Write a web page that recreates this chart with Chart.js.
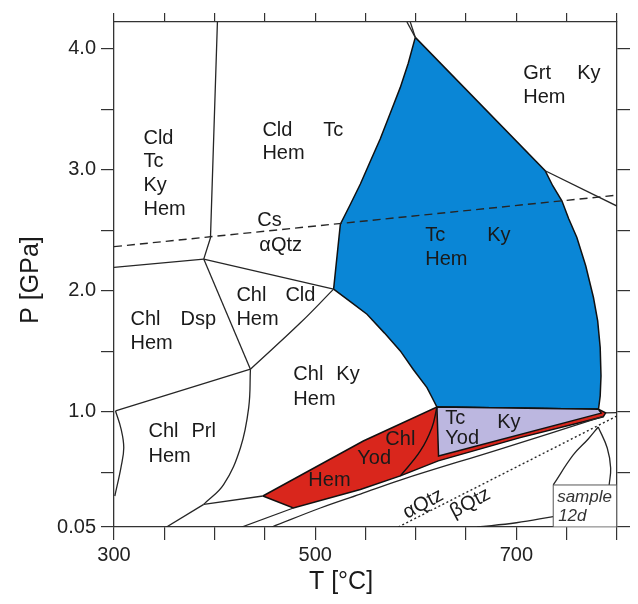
<!DOCTYPE html>
<html>
<head>
<meta charset="utf-8">
<script src="https://cdn.jsdelivr.net/npm/chart.js@4.4.1/dist/chart.umd.min.js"></script>
<style>
  html, body { margin: 0; padding: 0; background: #fff; }
  #wrap { width: 638px; height: 604px; }
</style>
</head>
<body>
<div id="wrap"><canvas id="phaseChart" width="638" height="604"></canvas></div>
<script>
// axes
const tempTicks = [300, 350, 400, 450, 500, 550, 600, 650, 700, 750, 800];
const tempLabels = [300, 500, 700];
const pressTicks = [0.05, 0.5, 1.0, 1.5, 2.0, 2.5, 3.0, 3.5, 4.0];
const pressLabels = [0.05, 1.0, 2.0, 3.0, 4.0];

// stability fields, [T °C, P GPa]
const tcKyHemField = [
  [599.5, 4.093], [728.6, 2.992], [736.1, 2.868], [745.2, 2.744], [752.0, 2.595], [760.1, 2.440],
  [768.9, 2.207], [776.6, 1.945], [780.8, 1.752], [783.3, 1.531], [784.1, 1.298], [783.3, 1.132],
  [781.6, 1.022], [621.0, 1.040], [615.4, 1.132], [611.1, 1.201], [597.5, 1.351], [584.6, 1.504],
  [568.7, 1.653], [551.5, 1.807], [534.9, 1.911], [518.3, 2.014], [525.0, 2.551], [535.0, 2.715],
  [544.9, 2.882], [554.8, 3.070], [564.7, 3.256], [574.6, 3.467], [584.6, 3.680], [592.5, 3.880],
  [599.5, 4.093]
];
const hemYodField = [
  [448.0, 0.306], [547.8, 0.760], [621.0, 1.040], [781.6, 1.022], [788.7, 0.992], [786.3, 0.960],
  [703.8, 0.788], [622.3, 0.596], [584.6, 0.472], [544.9, 0.360], [478.3, 0.207], [448.0, 0.306]
];
const tcYodKyField = [[621.0, 1.040], [781.6, 1.022], [784.3, 0.990], [622.6, 0.636], [621.0, 1.040]];
const sampleBox = [[736.6, 0.397], [800, 0.397], [800, 0.05], [736.6, 0.05], [736.6, 0.397]];

// reaction lines
const cldOut = [[402.8, 4.22], [395.9, 2.438], [389.2, 2.262]];
const dspLine = [[389.2, 2.262], [300, 2.193]];
const cldKyLine = [[389.2, 2.262], [518.3, 2.014]];
const dspCldLine = [[389.2, 2.262], [435.6, 1.353]];
const chlCldLine = [[435.6, 1.353], [485.3, 1.736], [518.3, 2.014]];
const prlDspLine = [[435.6, 1.353], [301.5, 1.008]];
const leftLoop = [[301.5, 1.008], [307.0, 0.860], [309.7, 0.705], [307.0, 0.545], [300.8, 0.306]];
const prlKyLine = [[435.6, 1.353], [433.9, 1.036], [425.7, 0.705], [409.1, 0.402], [389.2, 0.237]];
const prlLow = [[389.2, 0.237], [352.2, 0.05]];
const yodTip = [[389.2, 0.237], [448.0, 0.306]];
const lowerA = [[427.0, 0.05], [478.3, 0.207]];
const lowerB = [[457.0, 0.05], [505.1, 0.207], [544.9, 0.322], [584.6, 0.438], [683.9, 0.694], [786.3, 0.963]];
const tipLine = [[788.7, 0.992], [800, 0.995]];
const chlOut = [[621.0, 1.040], [616.0, 0.870], [604.5, 0.678], [584.6, 0.471]];
const topLineA = [[591.2, 4.22], [599.5, 4.093]];
const topLineB = [[594.5, 4.22], [599.5, 4.093]];
const grtLine = [[728.6, 2.992], [800, 2.70]];
const coesiteLine = [[300, 2.365], [800, 2.79]];
const quartzLine = [[582.6, 0.05], [800, 0.967]];
const meltA = [[781.3, 0.876], [790.3, 0.702], [793.7, 0.537], [792.2, 0.397]];
const meltB = [[781.3, 0.876], [771.4, 0.777], [756.5, 0.645], [736.6, 0.397]];
const lowCurve = [[661.0, 0.05], [700.0, 0.085], [736.6, 0.136]];

// field labels [text, T, P]
const fieldLabels = [
  ['Cld', 329.3, 3.260], ['Tc', 329.3, 3.070], ['Ky', 329.3, 2.868], ['Hem', 329.3, 2.669],
  ['Cld', 447.5, 3.322], ['Tc', 508.1, 3.322], ['Hem', 447.5, 3.132],
  ['Cs', 442.5, 2.579], ['αQtz', 444.5, 2.372],
  ['Chl', 421.7, 1.959], ['Cld', 470.4, 1.959], ['Hem', 421.7, 1.760],
  ['Chl', 316.4, 1.760], ['Dsp', 366.1, 1.760], ['Hem', 316.4, 1.562],
  ['Chl', 478.3, 1.306], ['Ky', 521.0, 1.306], ['Hem', 478.3, 1.107],
  ['Chl', 334.3, 0.835], ['Prl', 377.0, 0.835], ['Hem', 334.3, 0.636],
  ['Hem', 493.2, 0.438], ['Yod', 541.9, 0.612], ['Chl', 569.7, 0.769],
  ['Tc', 629.3, 0.950], ['Yod', 629.3, 0.777], ['Ky', 680.9, 0.909],
  ['Tc', 609.4, 2.455], ['Ky', 671.0, 2.455], ['Hem', 609.4, 2.256],
  ['Grt', 706.8, 3.793], ['Ky', 760.4, 3.793], ['Hem', 706.8, 3.595]
];
const quartzLabels = [['αQtz', 607.4, 0.240], ['βQtz', 654.1, 0.248]];
const sampleLabels = [['sample', 740.5, 0.298], ['12d', 741.5, 0.140]];

const FONT = '"Liberation Sans", Arial, sans-serif';
const toPts = arr => arr.map(([t, p]) => ({ x: t, y: p }));

function line(points, extra) {
  return Object.assign({
    data: toPts(points), borderColor: '#262626', borderWidth: 1.3,
    pointRadius: 0, fill: false, tension: 0, order: 1
  }, extra);
}
function field(points, color, order) {
  return {
    data: toPts(points), borderColor: '#111', borderWidth: 1.5, backgroundColor: color,
    fill: 'shape', pointRadius: 0, tension: 0, order: order
  };
}

const curved = { tension: 0.4 };
const datasets = [
  field(sampleBox, '#ffffff', 0),
  line(cldOut), line(dspLine), line(cldKyLine), line(dspCldLine),
  line(chlCldLine, curved), line(prlDspLine), line(leftLoop, curved),
  line(prlKyLine, curved), line(prlLow), line(yodTip), line(lowerA), line(lowerB, curved),
  line(tipLine), line(chlOut, { tension: 0.4, borderColor: '#111', borderWidth: 1.4 }),
  line(topLineA), line(topLineB), line(grtLine),
  line(coesiteLine, { borderDash: [8, 5], borderWidth: 1.4 }),
  line(quartzLine, { borderDash: [2, 2.5], borderWidth: 1.4 }),
  line(meltA, curved), line(meltB, curved), line(lowCurve, curved),
  field(tcYodKyField, '#bcb7e0', 2),
  field(hemYodField, '#d9261c', 3),
  field(tcKyHemField, '#0a86d6', 4)
];
datasets[0].borderColor = '#555';
datasets[0].borderWidth = 1;

const labelPlugin = {
  id: 'fieldLabels',
  afterDatasetsDraw(chart) {
    const { ctx, scales: { x, y } } = chart;
    ctx.save();
    ctx.fillStyle = '#1a1a1a';
    ctx.textBaseline = 'middle';
    ctx.textAlign = 'left';
    ctx.font = '20px ' + FONT;
    fieldLabels.forEach(([text, t, p]) => ctx.fillText(text, x.getPixelForValue(t), y.getPixelForValue(p)));

    ctx.textAlign = 'center';
    quartzLabels.forEach(([text, t, p]) => {
      ctx.save();
      ctx.translate(x.getPixelForValue(t), y.getPixelForValue(p));
      ctx.rotate(-28 * Math.PI / 180);
      ctx.fillText(text, 0, 0);
      ctx.restore();
    });

    ctx.textAlign = 'left';
    ctx.fillStyle = '#333';
    ctx.font = 'italic 17px ' + FONT;
    sampleLabels.forEach(([text, t, p]) => ctx.fillText(text, x.getPixelForValue(t), y.getPixelForValue(p)));

    // axis titles
    ctx.fillStyle = '#1a1a1a';
    ctx.font = '25px ' + FONT;
    ctx.textAlign = 'center';
    ctx.fillText('T [°C]', 341, 582);
    ctx.translate(31, 280);
    ctx.rotate(-Math.PI / 2);
    ctx.fillText('P [GPa]', 0, 0);
    ctx.restore();
  }
};

const gridOpts = { drawOnChartArea: false, drawTicks: true, tickLength: 13, color: '#333', lineWidth: 1.2 };
const topGrid = Object.assign({}, gridOpts, { tickLength: 9 });
const borderOpts = { color: '#333', width: 1.3 };
const tickFont = { family: FONT, size: 20 };

new Chart(document.getElementById('phaseChart'), {
  type: 'line',
  data: { datasets: datasets },
  options: {
    responsive: false,
    animation: false,
    events: [],
    layout: { padding: 0 },
    plugins: { legend: { display: false }, tooltip: { enabled: false } },
    scales: {
      x: {
        type: 'linear', position: 'bottom', min: 300, max: 800,
        grid: gridOpts, border: borderOpts,
        afterBuildTicks: s => { s.ticks = tempTicks.map(v => ({ value: v })); },
        afterFit: s => { s.height = 77; },
        ticks: {
          autoSkip: false, maxRotation: 0, padding: 3, color: '#222', font: tickFont,
          callback: v => tempLabels.includes(v) ? String(v) : ''
        }
      },
      x2: {
        type: 'linear', position: 'top', min: 300, max: 800,
        grid: topGrid, border: borderOpts,
        afterBuildTicks: s => { s.ticks = tempTicks.map(v => ({ value: v })); },
        afterFit: s => { s.height = 22; },
        ticks: { display: false }
      },
      y: {
        type: 'linear', position: 'left', min: 0.05, max: 4.22,
        grid: gridOpts, border: borderOpts,
        afterBuildTicks: s => { s.ticks = pressTicks.map(v => ({ value: v })); },
        afterFit: s => { s.width = 114; },
        ticks: {
          autoSkip: false, padding: 5, color: '#222', font: tickFont,
          callback: v => pressLabels.includes(v) ? (v === 0.05 ? '0.05' : v.toFixed(1)) : ''
        }
      },
      y2: {
        type: 'linear', position: 'right', min: 0.05, max: 4.22,
        grid: gridOpts, border: borderOpts,
        afterBuildTicks: s => { s.ticks = pressTicks.map(v => ({ value: v })); },
        afterFit: s => { s.width = 21; },
        ticks: { display: false }
      }
    }
  },
  plugins: [labelPlugin]
});
</script>
</body>
</html>
